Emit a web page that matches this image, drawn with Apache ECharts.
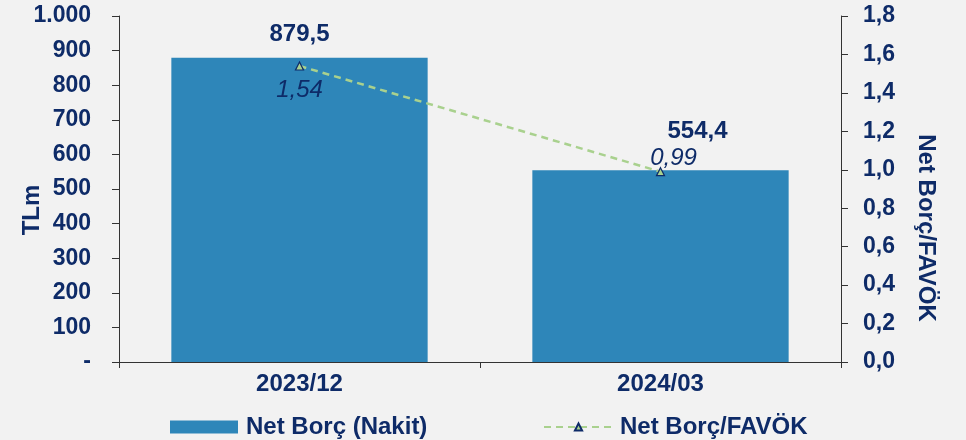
<!DOCTYPE html>
<html>
<head>
<meta charset="utf-8">
<script src="https://cdn.jsdelivr.net/npm/echarts@6/dist/echarts.min.js"></script>
<style>
  html, body { margin: 0; padding: 0; background: #f2f2f2; }
  #chart { width: 966px; height: 440px; }
</style>
</head>
<body>
<div id="chart"></div>
<script>
// Net debt (TL m) and net debt / EBITDA by period
const categories = ['2023/12', '2024/03'];
const netDebt = [879.5, 554.4];
const netDebtToEbitda = [1.54, 0.99];
const leftTicks = { min: 0, max: 1000, step: 100 };
const rightTicks = { min: 0, max: 1.8, step: 0.2 };

const navy = '#0e2b68';
const fontFamily = '"Liberation Sans", Arial, sans-serif';

function trNumber(v, decimals) {
  if (v === 0 && decimals === 0) return '-';
  const parts = v.toFixed(decimals).split('.');
  parts[0] = parts[0].replace(/\B(?=(\d{3})+(?!\d))/g, '.');
  return parts.join(',');
}

const barData = netDebt.map((v, i) => {
  const item = { value: v };
  if (i === 1) item.label = { offset: [37, -16] };
  return item;
});

const lineData = netDebtToEbitda.map((v, i) => {
  const item = { value: v };
  item.label = i === 0
    ? { position: 'bottom', distance: 8 }
    : { position: 'top', distance: 1, offset: [13, 4] };
  return item;
});

const boldText = { color: navy, fontSize: 24, fontWeight: 'bold', fontFamily: fontFamily };

const chart = echarts.init(document.getElementById('chart'));
chart.setOption({
  backgroundColor: '#f2f2f2',
  textStyle: { fontFamily: fontFamily },
  grid: { left: 119, right: 125, top: 16, bottom: 78, containLabel: false, outerBoundsMode: 'none' },
  legend: [
    {
      data: [{ name: 'Net Borç (Nakit)', icon: 'rect' }],
      left: 165, top: 410,
      itemWidth: 68, itemHeight: 13,
      textStyle: Object.assign({ padding: [0, 0, 0, 3] }, boldText)
    },
    {
      data: ['Net Borç/FAVÖK'],
      left: 538, top: 410,
      itemWidth: 69, itemHeight: 9,
      textStyle: Object.assign({ padding: [0, 0, 0, 2] }, boldText)
    }
  ],
  xAxis: {
    type: 'category',
    data: categories,
    boundaryGap: true,
    axisLine: { show: true, lineStyle: { color: '#333', width: 1 } },
    axisTick: { show: true, length: 6, lineStyle: { color: '#333' } },
    axisLabel: Object.assign({ margin: 10 }, boldText),
    splitLine: { show: false }
  },
  yAxis: [
    {
      type: 'value',
      min: leftTicks.min, max: leftTicks.max, interval: leftTicks.step,
      name: 'TLm',
      nameLocation: 'middle',
      nameGap: 75,
      nameRotate: 90,
      nameMoveOverlap: false,
      nameTextStyle: Object.assign({ padding: [0, 42, 0, 0] }, boldText),
      axisLine: { show: true, lineStyle: { color: '#333' } },
      axisTick: { show: true, length: 7, lineStyle: { color: '#333' } },
      axisLabel: {
        color: navy, fontSize: 23, fontWeight: 'bold', margin: 28, fontFamily: fontFamily,
        formatter: v => trNumber(v, 0)
      },
      splitLine: { show: false }
    },
    {
      type: 'value',
      position: 'right',
      min: rightTicks.min, max: rightTicks.max, interval: rightTicks.step,
      name: 'Net Borç/FAVÖK',
      nameLocation: 'middle',
      nameGap: 73,
      nameRotate: -90,
      nameMoveOverlap: false,
      nameTextStyle: Object.assign({ padding: [0, 0, 0, 78] }, boldText),
      axisLine: { show: true, lineStyle: { color: '#333' } },
      axisTick: { show: true, length: 7, lineStyle: { color: '#333' } },
      axisLabel: {
        color: navy, fontSize: 23, fontWeight: 'bold', margin: 22, fontFamily: fontFamily,
        formatter: v => trNumber(v, 1)
      },
      splitLine: { show: false }
    }
  ],
  series: [
    {
      name: 'Net Borç (Nakit)',
      type: 'bar',
      yAxisIndex: 0,
      data: barData,
      barWidth: '71%',
      itemStyle: { color: '#2e86b9' },
      label: Object.assign({
        show: true,
        position: 'top',
        distance: 11,
        formatter: p => trNumber(p.value, 1)
      }, boldText),
      z: 2
    },
    {
      name: 'Net Borç/FAVÖK',
      type: 'line',
      yAxisIndex: 1,
      data: lineData,
      symbol: 'triangle',
      symbolSize: 8,
      itemStyle: { color: '#a9d18e', borderColor: navy, borderWidth: 1.2 },
      lineStyle: { color: '#a9d18e', width: 2.5, type: [7, 5] },
      label: {
        show: true,
        color: navy, fontSize: 24, fontStyle: 'italic', fontFamily: fontFamily,
        formatter: p => trNumber(p.value, 2)
      },
      z: 3
    }
  ]
});
</script>
</body>
</html>
